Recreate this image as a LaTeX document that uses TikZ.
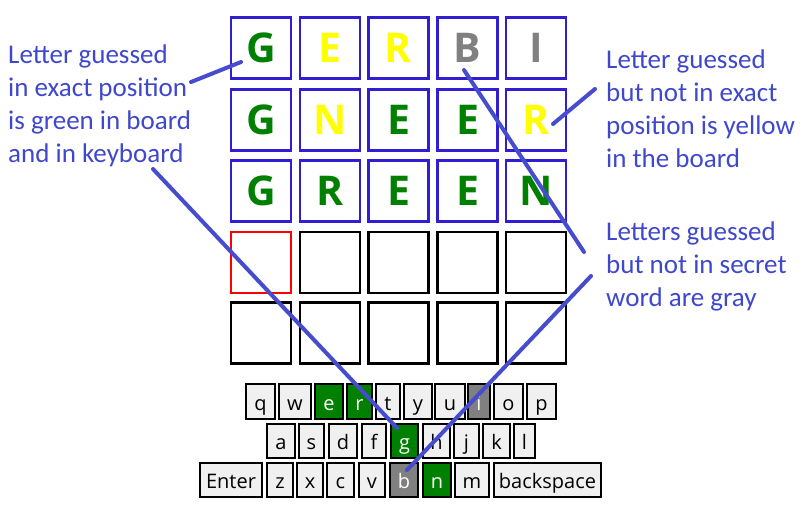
\documentclass[tikz,border=0pt]{standalone}
\usepackage{fontspec}
\newfontfamily\annfont{Carlito}
\newfontfamily\uifont{Open Sans}
\definecolor{annblue}{RGB}{63,72,204}
\definecolor{lineblue}{RGB}{70,76,206}
\definecolor{boardblue}{RGB}{50,30,210}
\definecolor{wgreen}{RGB}{0,128,0}
\definecolor{wyellow}{RGB}{255,255,0}
\definecolor{wgray}{RGB}{128,128,128}
\definecolor{keybg}{RGB}{240,240,240}
\tikzset{
  cellbox/.style={draw=boardblue, line width=2.2pt, minimum width=60pt, minimum height=61pt, inner sep=0pt,
    font=\uifont\bfseries\fontsize{41}{41}\selectfont, text height=29.5pt, text depth=0pt},
  emptycell/.style={draw=black, line width=2.2pt, minimum width=60pt, minimum height=61pt, inner sep=0pt},
  keybox/.style={draw=black, line width=2.2pt, fill=keybg, inner sep=0pt,
    font=\uifont\fontsize{20}{20}\selectfont, text height=17pt, text depth=0pt},
  anntext/.style={text=annblue, align=left, inner sep=0pt, anchor=north west,
    font=\annfont\fontsize{27}{33}\selectfont},
  annline/.style={draw=lineblue, line width=4pt, line cap=round}
}
\newcommand\mykey[8]{\node[keybox, fill=#7, text=#8, minimum width={(#3-#2)*1pt}, minimum height={(#5-#4)*1pt}]
  (#1) at ({(#2+#3)/2},{(#4+#5)/2}) {#6};}
\begin{document}
\begin{tikzpicture}[x=1pt,y=-1pt]
\useasboundingbox[fill=white] (0,0) rectangle (802,512);
% board
\node[cellbox, text=wgreen]  (c11) at (261,48) {G};
\node[cellbox, text=wyellow] (c12) at (330,48) {E};
\node[cellbox, text=wyellow] (c13) at (398.5,48) {R};
\node[cellbox, text=wgray]   (c14) at (467.5,48) {B};
\node[cellbox, text=wgray]   (c15) at (536,48) {I};
\node[cellbox, text=wgreen]  (c21) at (261,120) {G};
\node[cellbox, text=wyellow] (c22) at (330,120) {N};
\node[cellbox, text=wgreen]  (c23) at (398.5,120) {E};
\node[cellbox, text=wgreen]  (c24) at (467.5,120) {E};
\node[cellbox, text=wyellow] (c25) at (536,120) {R};
\node[cellbox, text=wgreen]  (c31) at (261,191) {G};
\node[cellbox, text=wgreen]  (c32) at (330,191) {R};
\node[cellbox, text=wgreen]  (c33) at (398.5,191) {E};
\node[cellbox, text=wgreen]  (c34) at (467.5,191) {E};
\node[cellbox, text=wgreen]  (c35) at (536,191) {N};
\node[emptycell, draw=red] (c41) at (261,262.5) {};
\node[emptycell] (c42) at (330,262.5) {};
\node[emptycell] (c43) at (398.5,262.5) {};
\node[emptycell] (c44) at (467.5,262.5) {};
\node[emptycell] (c45) at (536,262.5) {};
\node[emptycell] (c51) at (261,333) {};
\node[emptycell] (c52) at (330,333) {};
\node[emptycell] (c53) at (398.5,333) {};
\node[emptycell] (c54) at (467.5,333) {};
\node[emptycell] (c55) at (536,333) {};
% keyboard row 1
\mykey{kq}{246}{275}{384}{419}{q}{keybg}{black}
\mykey{kw}{279}{311}{384}{419}{w}{keybg}{black}
\mykey{ke}{315}{343}{384}{419}{e}{wgreen}{white}
\mykey{kr}{347}{372}{384}{419}{r}{wgreen}{white}
\mykey{kt}{376}{400}{384}{419}{t}{keybg}{black}
\mykey{ky}{404}{432}{384}{419}{y}{keybg}{black}
\mykey{ku}{435}{465}{384}{419}{u}{keybg}{black}
\mykey{ki}{468}{490}{384}{419}{i}{wgray}{white}
\mykey{ko}{494}{523}{384}{419}{o}{keybg}{black}
\mykey{kp}{527}{556}{384}{419}{p}{keybg}{black}
% row 2
\mykey{ka}{267}{295}{424}{458}{a}{keybg}{black}
\mykey{ks}{299}{324}{424}{458}{s}{keybg}{black}
\mykey{kd}{329}{357}{424}{458}{d}{keybg}{black}
\mykey{kf}{362}{386}{424}{458}{f}{keybg}{black}
\mykey{kg}{391}{418}{424}{458}{g}{wgreen}{white}
\mykey{kh}{423}{450}{424}{458}{h}{keybg}{black}
\mykey{kj}{454}{479}{424}{458}{j}{keybg}{black}
\mykey{kk}{483}{510}{424}{458}{k}{keybg}{black}
\mykey{kl}{514}{535}{424}{458}{l}{keybg}{black}
% row 3
\mykey{kenter}{200}{262}{463}{497}{Enter}{keybg}{black}
\mykey{kz}{267}{293}{463}{497}{z}{keybg}{black}
\mykey{kx}{297}{323}{463}{497}{x}{keybg}{black}
\mykey{kc}{327}{354}{463}{497}{c}{keybg}{black}
\mykey{kv}{359}{385}{463}{497}{v}{keybg}{black}
\mykey{kb}{390}{418}{463}{497}{b}{wgray}{white}
\mykey{kn}{423}{451}{463}{497}{n}{wgreen}{white}
\mykey{km}{455}{489}{463}{497}{m}{keybg}{black}
\mykey{kback}{494}{601}{463}{497}{backspace}{keybg}{black}
% annotations
\node[anntext] (t1) at (8,45) {Letter guessed\\in exact position\\is green in board\\and in keyboard};
\node[anntext] (t2) at (606,50) {Letter guessed\\but not in exact\\position is yellow\\in the board};
\node[anntext] (t3) at (606,222) {Letters guessed\\but not in secret\\word are gray};
\coordinate (a1s) at (191,82);  \coordinate (a1e) at (241,62);
\coordinate (a2s) at (153,169); \coordinate (a2e) at (397,428);
\coordinate (a3s) at (595,89);  \coordinate (a3e) at (553,124);
\coordinate (a4s) at (584,252); \coordinate (a4e) at (464,70);
\coordinate (a5s) at (591,276); \coordinate (a5e) at (407,470);
\draw[annline] (a1s) -- (a1e);
\draw[annline] (a2s) -- (a2e);
\draw[annline] (a3s) -- (a3e);
\draw[annline] (a4s) -- (a4e);
\draw[annline] (a5s) -- (a5e);
\end{tikzpicture}
\end{document}
